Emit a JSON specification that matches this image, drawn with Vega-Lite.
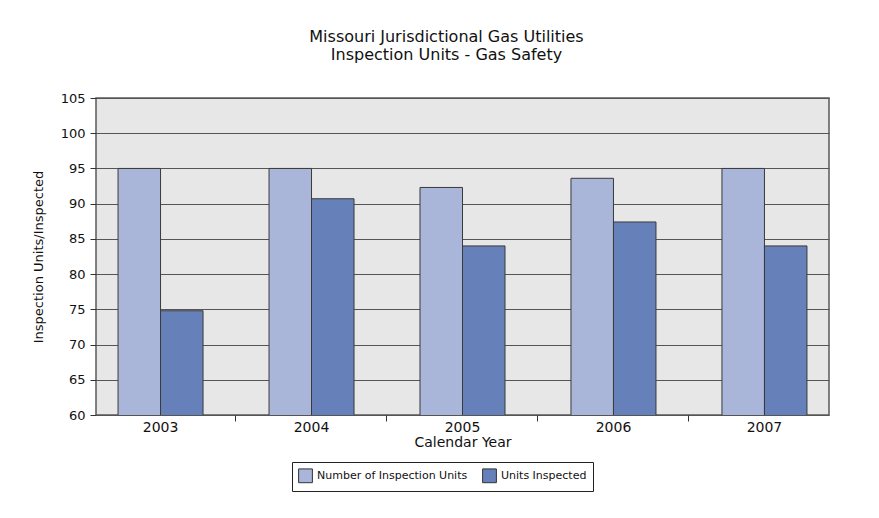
{
  "$schema": "https://vega.github.io/schema/vega-lite/v6.json",
  "autosize": {"type": "none"},
  "padding": {"left": 96, "top": 98, "right": 50, "bottom": 103},
  "width": 733,
  "height": 317,
  "background": "white",
  "title": {
    "text": ["Missouri Jurisdictional Gas Utilities", "Inspection Units - Gas Safety"],
    "font": "DejaVu Sans",
    "fontSize": 16,
    "fontWeight": "normal",
    "color": "#111111",
    "lineHeight": 18,
    "anchor": "middle",
    "frame": "group",
    "offset": 29,
    "dx": -16
  },
  "data": {
    "values": [
      {"year": "2003", "series": "Number of Inspection Units", "value": 95},
      {"year": "2003", "series": "Units Inspected", "value": 74.8},
      {"year": "2004", "series": "Number of Inspection Units", "value": 95},
      {"year": "2004", "series": "Units Inspected", "value": 90.7},
      {"year": "2005", "series": "Number of Inspection Units", "value": 92.3},
      {"year": "2005", "series": "Units Inspected", "value": 84},
      {"year": "2006", "series": "Number of Inspection Units", "value": 93.6},
      {"year": "2006", "series": "Units Inspected", "value": 87.4},
      {"year": "2007", "series": "Number of Inspection Units", "value": 95},
      {"year": "2007", "series": "Units Inspected", "value": 84}
    ]
  },
  "config": {
    "font": "DejaVu Sans",
    "view": {"fill": "#e6e7e6", "stroke": "#5a5a5a", "strokeWidth": 1.5},
    "axis": {
      "labelFont": "DejaVu Sans",
      "titleFont": "DejaVu Sans",
      "labelColor": "#111111",
      "titleColor": "#111111",
      "titleFontWeight": "normal",
      "tickColor": "#333333",
      "domainColor": "#444444"
    }
  },
  "layer": [
    {
      "mark": {"type": "bar", "stroke": "#3a3a3a", "strokeWidth": 1, "clip": true},
      "encoding": {
        "x": {
          "field": "year",
          "type": "ordinal",
          "scale": {"paddingInner": 0.437, "paddingOuter": 0.146},
          "axis": {
            "title": "Calendar Year",
            "titleFontSize": 14,
            "labelFontSize": 14,
            "titlePadding": 1,
            "labelAngle": 0,
            "ticks": false,
            "labelPadding": 5,
            "domain": false,
            "grid": false
          }
        },
        "xOffset": {
          "field": "series",
          "type": "nominal",
          "sort": ["Number of Inspection Units", "Units Inspected"],
          "scale": {"paddingInner": 0, "paddingOuter": 0}
        },
        "y": {
          "field": "value",
          "type": "quantitative",
          "scale": {"domain": [60, 105], "nice": false, "zero": false},
          "axis": {
            "title": "Inspection Units/Inspected",
            "titleFontSize": 13,
            "labelFontSize": 13,
            "titlePadding": 15,
            "values": [60, 65, 70, 75, 80, 85, 90, 95, 100, 105],
            "tickSize": 6,
            "labelPadding": 5,
            "domain": false,
            "grid": true,
            "gridColor": "#555555",
            "gridWidth": 1,
            "gridOpacity": 1
          }
        },
        "color": {
          "field": "series",
          "type": "nominal",
          "sort": ["Number of Inspection Units", "Units Inspected"],
          "scale": {
            "domain": ["Number of Inspection Units", "Units Inspected"],
            "range": ["#a9b5d9", "#6680b9"]
          },
          "legend": {
            "title": null,
            "orient": "none",
            "legendX": 196,
            "legendY": 364,
            "direction": "horizontal",
            "symbolType": "square",
            "symbolSize": 190,
            "symbolStrokeColor": "#333333",
            "symbolStrokeWidth": 1,
            "symbolOpacity": 1,
            "labelFont": "DejaVu Sans",
            "labelFontSize": 11,
            "labelColor": "#111111",
            "strokeColor": "#222222",
            "fillColor": "white",
            "padding": 6,
            "columnPadding": 12
          }
        }
      }
    },
    {
      "mark": {"type": "rule", "opacity": 0},
      "encoding": {
        "x": {
          "field": "year",
          "type": "ordinal",
          "axis": {
            "orient": "bottom",
            "bandPosition": -0.39,
            "values": ["2004", "2005", "2006", "2007"],
            "labels": false,
            "ticks": true,
            "tickSize": 6,
            "tickColor": "#333333",
            "domain": false,
            "grid": false,
            "title": null
          }
        }
      }
    }
  ],
  "resolve": {"axis": {"x": "independent"}}
}
